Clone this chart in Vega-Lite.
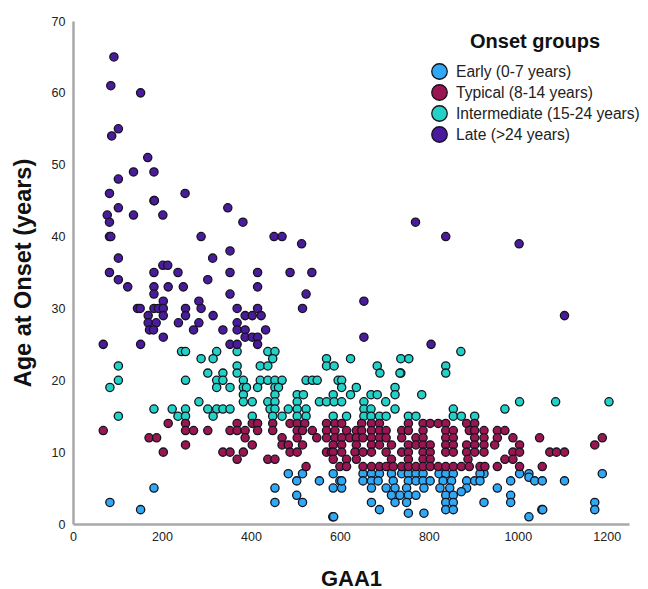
{"$schema":"https://vega.github.io/schema/vega-lite/v6.json","width":556,"height":503,"autosize":"none","padding":{"left":73,"top":21,"right":19,"bottom":65},"background":"white",
"datasets":{"pts":[
{"g":"E","x":83,"y":3},{"g":"E","x":152,"y":2},{"g":"E","x":182,"y":5},{"g":"E","x":454,"y":5},{"g":"E","x":454,"y":3},{"g":"E","x":484,"y":7},{"g":"E","x":503,"y":6},{"g":"E","x":503,"y":4},{"g":"E","x":516,"y":7},{"g":"E","x":516,"y":3},{"g":"E","x":554,"y":6},{"g":"E","x":585,"y":7},{"g":"E","x":585,"y":5},{"g":"E","x":584,"y":1},{"g":"E","x":586,"y":1},{"g":"E","x":600,"y":6},{"g":"E","x":604,"y":5},
{"g":"E","x":652,"y":7},{"g":"E","x":671,"y":7},{"g":"E","x":689,"y":7},{"g":"E","x":716,"y":7},{"g":"E","x":739,"y":7},{"g":"E","x":754,"y":7},{"g":"E","x":771,"y":7},{"g":"E","x":787,"y":7},{"g":"E","x":823,"y":7},{"g":"E","x":838,"y":7},{"g":"E","x":855,"y":7},{"g":"E","x":924,"y":7},{"g":"E","x":915,"y":7},{"g":"E","x":1004,"y":7},{"g":"E","x":1025,"y":7},{"g":"E","x":1190,"y":7},
{"g":"E","x":604,"y":6},{"g":"E","x":652,"y":6},{"g":"E","x":671,"y":6},{"g":"E","x":686,"y":6},{"g":"E","x":720,"y":6},{"g":"E","x":754,"y":6},{"g":"E","x":771,"y":6},{"g":"E","x":787,"y":6},{"g":"E","x":803,"y":6},{"g":"E","x":832,"y":6},{"g":"E","x":851,"y":6},{"g":"E","x":885,"y":6},{"g":"E","x":903,"y":6},{"g":"E","x":915,"y":6},{"g":"E","x":984,"y":6},{"g":"E","x":1025,"y":6.5},{"g":"E","x":1038,"y":6},{"g":"E","x":1055,"y":6},{"g":"E","x":1105,"y":6},
{"g":"E","x":671,"y":5},{"g":"E","x":704,"y":5},{"g":"E","x":724,"y":5},{"g":"E","x":750,"y":5},{"g":"E","x":789,"y":5},{"g":"E","x":825,"y":5},{"g":"E","x":847,"y":5},{"g":"E","x":885,"y":5},{"g":"E","x":954,"y":5},
{"g":"E","x":716,"y":4},{"g":"E","x":735,"y":4},{"g":"E","x":754,"y":4},{"g":"E","x":771,"y":4},{"g":"E","x":838,"y":4},{"g":"E","x":855,"y":4},{"g":"E","x":873,"y":4.5},{"g":"E","x":984,"y":4},
{"g":"E","x":671,"y":3},{"g":"E","x":724,"y":3},{"g":"E","x":750,"y":3},{"g":"E","x":838,"y":3},{"g":"E","x":855,"y":3},{"g":"E","x":924,"y":3},{"g":"E","x":984,"y":3},{"g":"E","x":1173,"y":3},
{"g":"E","x":689,"y":2},{"g":"E","x":838,"y":2},{"g":"E","x":855,"y":2},{"g":"E","x":1054,"y":2},{"g":"E","x":1056,"y":2},{"g":"E","x":1173,"y":2},{"g":"E","x":754,"y":1.5},{"g":"E","x":789,"y":1.5},{"g":"E","x":1025,"y":1},

{"g":"I","x":244,"y":24},{"g":"I","x":253,"y":24},{"g":"I","x":323,"y":24},{"g":"I","x":369,"y":24},{"g":"I","x":438,"y":24},{"g":"I","x":454,"y":24},{"g":"I","x":872,"y":24},
{"g":"I","x":288,"y":23},{"g":"I","x":315,"y":23},{"g":"I","x":449,"y":23},{"g":"I","x":570,"y":23},{"g":"I","x":624,"y":23},{"g":"I","x":737,"y":23},{"g":"I","x":755,"y":23},
{"g":"I","x":102,"y":22},{"g":"I","x":369,"y":22},{"g":"I","x":421,"y":22},{"g":"I","x":438,"y":22},{"g":"I","x":570,"y":22},{"g":"I","x":587,"y":22},{"g":"I","x":684,"y":22},{"g":"I","x":838,"y":22},
{"g":"I","x":303,"y":21},{"g":"I","x":337,"y":21},{"g":"I","x":369,"y":21},{"g":"I","x":690,"y":21},{"g":"I","x":737,"y":21},{"g":"I","x":735,"y":21},{"g":"I","x":838,"y":21},
{"g":"I","x":102,"y":20},{"g":"I","x":253,"y":20},{"g":"I","x":323,"y":20},{"g":"I","x":337,"y":20},{"g":"I","x":383,"y":20},{"g":"I","x":421,"y":20},{"g":"I","x":438,"y":20},{"g":"I","x":454,"y":20},{"g":"I","x":470,"y":20},{"g":"I","x":524,"y":20},{"g":"I","x":538,"y":20},{"g":"I","x":549,"y":20},{"g":"I","x":596,"y":20},{"g":"I","x":604,"y":20},
{"g":"I","x":83,"y":19},{"g":"I","x":323,"y":19},{"g":"I","x":353,"y":19},{"g":"I","x":383,"y":19},{"g":"I","x":390,"y":19},{"g":"I","x":415,"y":19},{"g":"I","x":454,"y":19},{"g":"I","x":462,"y":19},{"g":"I","x":604,"y":19},{"g":"I","x":637,"y":19},{"g":"I","x":724,"y":19},
{"g":"I","x":383,"y":18},{"g":"I","x":454,"y":18},{"g":"I","x":504,"y":18},{"g":"I","x":518,"y":18},{"g":"I","x":585,"y":18},{"g":"I","x":624,"y":18},{"g":"I","x":670,"y":18},{"g":"I","x":684,"y":18},{"g":"I","x":724,"y":18},{"g":"I","x":784,"y":18},
{"g":"I","x":283,"y":17},{"g":"I","x":383,"y":17},{"g":"I","x":403,"y":17},{"g":"I","x":438,"y":17},{"g":"I","x":454,"y":17},{"g":"I","x":504,"y":17},{"g":"I","x":554,"y":17},{"g":"I","x":570,"y":17},{"g":"I","x":587,"y":17},{"g":"I","x":604,"y":17},{"g":"I","x":654,"y":17},{"g":"I","x":703,"y":17},{"g":"I","x":1004,"y":17},{"g":"I","x":1085,"y":17},{"g":"I","x":1205,"y":17},
{"g":"I","x":182,"y":16},{"g":"I","x":223,"y":16},{"g":"I","x":253,"y":16},{"g":"I","x":303,"y":16},{"g":"I","x":323,"y":16},{"g":"I","x":337,"y":16},{"g":"I","x":353,"y":16},{"g":"I","x":443,"y":16},{"g":"I","x":454,"y":16},{"g":"I","x":484,"y":16},{"g":"I","x":504,"y":16},{"g":"I","x":524,"y":16},{"g":"I","x":654,"y":16},{"g":"I","x":670,"y":16},{"g":"I","x":724,"y":16},{"g":"I","x":855,"y":16},{"g":"I","x":971,"y":16},
{"g":"I","x":102,"y":15},{"g":"I","x":236,"y":15},{"g":"I","x":253,"y":15},{"g":"I","x":315,"y":15},{"g":"I","x":403,"y":15},{"g":"I","x":449,"y":15},{"g":"I","x":470,"y":15},{"g":"I","x":504,"y":15},{"g":"I","x":524,"y":15},{"g":"I","x":585,"y":15},{"g":"I","x":615,"y":15},{"g":"I","x":654,"y":15},{"g":"I","x":670,"y":15},{"g":"I","x":689,"y":15},{"g":"I","x":704,"y":15},{"g":"I","x":754,"y":15},{"g":"I","x":771,"y":15},{"g":"I","x":855,"y":15},{"g":"I","x":873,"y":15},{"g":"I","x":903,"y":15},

{"g":"T","x":214,"y":14},{"g":"T","x":253,"y":14},{"g":"T","x":369,"y":14},{"g":"T","x":403,"y":14},{"g":"T","x":415,"y":14},{"g":"T","x":449,"y":14},{"g":"T","x":488,"y":14},{"g":"T","x":504,"y":14},{"g":"T","x":521,"y":14},{"g":"T","x":570,"y":14},{"g":"T","x":589,"y":14},{"g":"T","x":604,"y":14},{"g":"T","x":649,"y":14},{"g":"T","x":671,"y":14},{"g":"T","x":689,"y":14},{"g":"T","x":754,"y":14},{"g":"T","x":787,"y":14},{"g":"T","x":803,"y":14},{"g":"T","x":821,"y":14},{"g":"T","x":838,"y":14},{"g":"T","x":885,"y":14},{"g":"T","x":903,"y":14},
{"g":"T","x":68,"y":13},{"g":"T","x":253,"y":13},{"g":"T","x":271,"y":13},{"g":"T","x":303,"y":13},{"g":"T","x":353,"y":13},{"g":"T","x":369,"y":13},{"g":"T","x":387,"y":13},{"g":"T","x":415,"y":13},{"g":"T","x":449,"y":13},{"g":"T","x":504,"y":13},{"g":"T","x":516,"y":13},{"g":"T","x":538,"y":13},{"g":"T","x":570,"y":13},{"g":"T","x":589,"y":13},{"g":"T","x":615,"y":13},{"g":"T","x":637,"y":13},{"g":"T","x":649,"y":13},{"g":"T","x":671,"y":13},{"g":"T","x":689,"y":13},{"g":"T","x":704,"y":13},{"g":"T","x":739,"y":13},{"g":"T","x":754,"y":13},{"g":"T","x":787,"y":13},{"g":"T","x":838,"y":13},{"g":"T","x":855,"y":13},{"g":"T","x":891,"y":13},{"g":"T","x":903,"y":13},{"g":"T","x":924,"y":13},{"g":"T","x":954,"y":13},{"g":"T","x":971,"y":13},
{"g":"T","x":171,"y":12},{"g":"T","x":188,"y":12},{"g":"T","x":387,"y":12},{"g":"T","x":470,"y":12},{"g":"T","x":504,"y":12},{"g":"T","x":548,"y":12},{"g":"T","x":570,"y":12},{"g":"T","x":589,"y":12},{"g":"T","x":604,"y":12},{"g":"T","x":622,"y":12},{"g":"T","x":637,"y":12},{"g":"T","x":652,"y":12},{"g":"T","x":671,"y":12},{"g":"T","x":689,"y":12},{"g":"T","x":704,"y":12},{"g":"T","x":739,"y":12},{"g":"T","x":771,"y":12},{"g":"T","x":787,"y":12},{"g":"T","x":838,"y":12},{"g":"T","x":855,"y":12},{"g":"T","x":903,"y":12},{"g":"T","x":924,"y":12},{"g":"T","x":954,"y":12},{"g":"T","x":989,"y":12},{"g":"T","x":1049,"y":12},{"g":"T","x":1190,"y":12},
{"g":"T","x":253,"y":11},{"g":"T","x":403,"y":11},{"g":"T","x":470,"y":11},{"g":"T","x":484,"y":11},{"g":"T","x":516,"y":11},{"g":"T","x":585,"y":11},{"g":"T","x":604,"y":11},{"g":"T","x":637,"y":11},{"g":"T","x":671,"y":11},{"g":"T","x":689,"y":11},{"g":"T","x":716,"y":11},{"g":"T","x":754,"y":11},{"g":"T","x":771,"y":11},{"g":"T","x":787,"y":11},{"g":"T","x":803,"y":11},{"g":"T","x":838,"y":11},{"g":"T","x":855,"y":11},{"g":"T","x":885,"y":11},{"g":"T","x":903,"y":11},{"g":"T","x":924,"y":11},{"g":"T","x":948,"y":11},{"g":"T","x":1004,"y":11},{"g":"T","x":1173,"y":11},
{"g":"T","x":203,"y":10},{"g":"T","x":337,"y":10},{"g":"T","x":353,"y":10},{"g":"T","x":383,"y":10},{"g":"T","x":488,"y":10},{"g":"T","x":504,"y":10},{"g":"T","x":570,"y":10},{"g":"T","x":581,"y":10},{"g":"T","x":585,"y":10},{"g":"T","x":604,"y":10},{"g":"T","x":634,"y":10},{"g":"T","x":652,"y":10},{"g":"T","x":671,"y":10},{"g":"T","x":704,"y":10},{"g":"T","x":739,"y":10},{"g":"T","x":754,"y":10},{"g":"T","x":787,"y":10},{"g":"T","x":803,"y":10},{"g":"T","x":838,"y":10},{"g":"T","x":855,"y":10},{"g":"T","x":885,"y":10},{"g":"T","x":903,"y":10},{"g":"T","x":924,"y":10},{"g":"T","x":989,"y":10},{"g":"T","x":1004,"y":10},{"g":"T","x":1072,"y":10},{"g":"T","x":1087,"y":10},{"g":"T","x":1105,"y":10},
{"g":"T","x":369,"y":9},{"g":"T","x":438,"y":9},{"g":"T","x":454,"y":9},{"g":"T","x":585,"y":9},{"g":"T","x":615,"y":9},{"g":"T","x":637,"y":9},{"g":"T","x":716,"y":9},{"g":"T","x":754,"y":9},{"g":"T","x":787,"y":9},{"g":"T","x":803,"y":9},{"g":"T","x":888,"y":9},{"g":"T","x":971,"y":9},{"g":"T","x":989,"y":9},
{"g":"T","x":524,"y":8},{"g":"T","x":600,"y":8},{"g":"T","x":615,"y":8},{"g":"T","x":652,"y":8},{"g":"T","x":671,"y":8},{"g":"T","x":689,"y":8},{"g":"T","x":704,"y":8},{"g":"T","x":720,"y":8},{"g":"T","x":739,"y":8},{"g":"T","x":754,"y":8},{"g":"T","x":771,"y":8},{"g":"T","x":787,"y":8},{"g":"T","x":803,"y":8},{"g":"T","x":821,"y":8},{"g":"T","x":838,"y":8},{"g":"T","x":855,"y":8},{"g":"T","x":873,"y":8},{"g":"T","x":891,"y":8},{"g":"T","x":915,"y":8},{"g":"T","x":926,"y":8},{"g":"T","x":954,"y":8},{"g":"T","x":1004,"y":8},{"g":"T","x":1055,"y":8},

{"g":"L","x":92,"y":65},{"g":"L","x":85,"y":61},{"g":"L","x":152,"y":60},{"g":"L","x":102,"y":55},{"g":"L","x":87,"y":54},{"g":"L","x":168,"y":51},{"g":"L","x":136,"y":49},{"g":"L","x":182,"y":49},{"g":"L","x":102,"y":48},{"g":"L","x":82,"y":46},{"g":"L","x":252,"y":46},{"g":"L","x":182,"y":45},{"g":"L","x":183,"y":45},{"g":"L","x":102,"y":44},{"g":"L","x":348,"y":44},{"g":"L","x":136,"y":43},{"g":"L","x":202,"y":43},{"g":"L","x":77,"y":43},{"g":"L","x":82,"y":42},{"g":"L","x":382,"y":42},{"g":"L","x":770,"y":42},{"g":"L","x":82,"y":40},{"g":"L","x":85,"y":40},{"g":"L","x":288,"y":40},{"g":"L","x":452,"y":40},{"g":"L","x":470,"y":40},{"g":"L","x":838,"y":40},{"g":"L","x":514,"y":39},{"g":"L","x":1003,"y":39},{"g":"L","x":353,"y":38},{"g":"L","x":102,"y":37},{"g":"L","x":314,"y":37},{"g":"L","x":202,"y":36},{"g":"L","x":213,"y":36},
{"g":"L","x":82,"y":35},{"g":"L","x":182,"y":35},{"g":"L","x":236,"y":35},{"g":"L","x":353,"y":35},{"g":"L","x":415,"y":35},{"g":"L","x":488,"y":35},{"g":"L","x":537,"y":35},{"g":"L","x":102,"y":34},{"g":"L","x":303,"y":34},
{"g":"L","x":123,"y":33},{"g":"L","x":182,"y":33},{"g":"L","x":214,"y":33},{"g":"L","x":248,"y":33},{"g":"L","x":415,"y":33},{"g":"L","x":182,"y":32},{"g":"L","x":353,"y":32},{"g":"L","x":524,"y":32},{"g":"L","x":203,"y":31},{"g":"L","x":283,"y":31},{"g":"L","x":654,"y":31},
{"g":"L","x":145,"y":30},{"g":"L","x":151,"y":30},{"g":"L","x":182,"y":30},{"g":"L","x":192,"y":30},{"g":"L","x":203,"y":30},{"g":"L","x":253,"y":30},{"g":"L","x":288,"y":30},{"g":"L","x":369,"y":30},{"g":"L","x":415,"y":30},{"g":"L","x":516,"y":30},
{"g":"L","x":169,"y":29},{"g":"L","x":203,"y":29},{"g":"L","x":253,"y":29},{"g":"L","x":315,"y":29},{"g":"L","x":387,"y":29},{"g":"L","x":403,"y":29},{"g":"L","x":423,"y":29},{"g":"L","x":1105,"y":29},
{"g":"L","x":169,"y":28},{"g":"L","x":187,"y":28},{"g":"L","x":237,"y":28},{"g":"L","x":283,"y":28},{"g":"L","x":369,"y":28},{"g":"L","x":172,"y":27},{"g":"L","x":181,"y":27},{"g":"L","x":271,"y":27},{"g":"L","x":337,"y":27},{"g":"L","x":369,"y":27},{"g":"L","x":387,"y":27},{"g":"L","x":433,"y":27},
{"g":"L","x":203,"y":26},{"g":"L","x":387,"y":26},{"g":"L","x":403,"y":26},{"g":"L","x":415,"y":26},{"g":"L","x":654,"y":26},{"g":"L","x":68,"y":25},{"g":"L","x":152,"y":25},{"g":"L","x":353,"y":25},{"g":"L","x":369,"y":25},{"g":"L","x":415,"y":25},{"g":"L","x":805,"y":25}
]},
"data":{"name":"pts"},
"transform":[{"lookup":"g","from":{"data":{"values":[{"g":"E","Group":"Early (0-7 years)"},{"g":"T","Group":"Typical (8-14 years)"},{"g":"I","Group":"Intermediate (15-24 years)"},{"g":"L","Group":"Late (>24 years)"}]},"key":"g","fields":["Group"]}}],
"mark":{"type":"point","filled":true,"size":68,"stroke":"#14141f","strokeWidth":1.3,"opacity":1,"clip":false},
"encoding":{
"x":{"field":"x","type":"quantitative","title":"GAA1","scale":{"domain":[0,1250],"nice":false,"zero":false},
"axis":{"values":[0,200,400,600,800,1000,1200],"format":"d","labelFlush":false,"grid":false,"ticks":false,"labelPadding":6,"labelFont":"Liberation Sans","labelFontSize":12.5,"labelColor":"#222","domainColor":"#a8a8a8","domainWidth":2.5,"titleFont":"Liberation Sans","titleFontSize":22,"titleFontWeight":"bold","titleColor":"#111","titlePadding":26}},
"y":{"field":"y","type":"quantitative","title":"Age at Onset (years)","scale":{"domain":[0,70],"nice":false,"zero":false},
"axis":{"values":[0,10,20,30,40,50,60,70],"labelFlush":false,"grid":false,"ticks":false,"labelPadding":8,"labelFont":"Liberation Sans","labelFontSize":12.5,"labelColor":"#222","domainColor":"#a8a8a8","domainWidth":2.5,"titleFont":"Liberation Sans","titleFontSize":23.5,"titleFontWeight":"bold","titleColor":"#111","titlePadding":16}},
"color":{"field":"Group","type":"nominal","scale":{"domain":["Early (0-7 years)","Typical (8-14 years)","Intermediate (15-24 years)","Late (>24 years)"],"range":["#2FA8F6","#9A1650","#22D2C6","#4B1B9E"]},
"legend":{"orient":"none","legendX":358,"legendY":11,"title":"Onset groups","titleFont":"Liberation Sans","titleFontSize":20,"titleFontWeight":"bold","titleColor":"#111","titleAnchor":"middle","titlePadding":11,"labelFont":"Liberation Sans","labelFontSize":15.6,"labelColor":"#222","symbolSize":240,"symbolStrokeColor":"#14141f","symbolStrokeWidth":1.3,"symbolType":"circle","labelOffset":8,"rowPadding":0,"labelLimit":260}}
},
"config":{"view":{"stroke":null}}
}
